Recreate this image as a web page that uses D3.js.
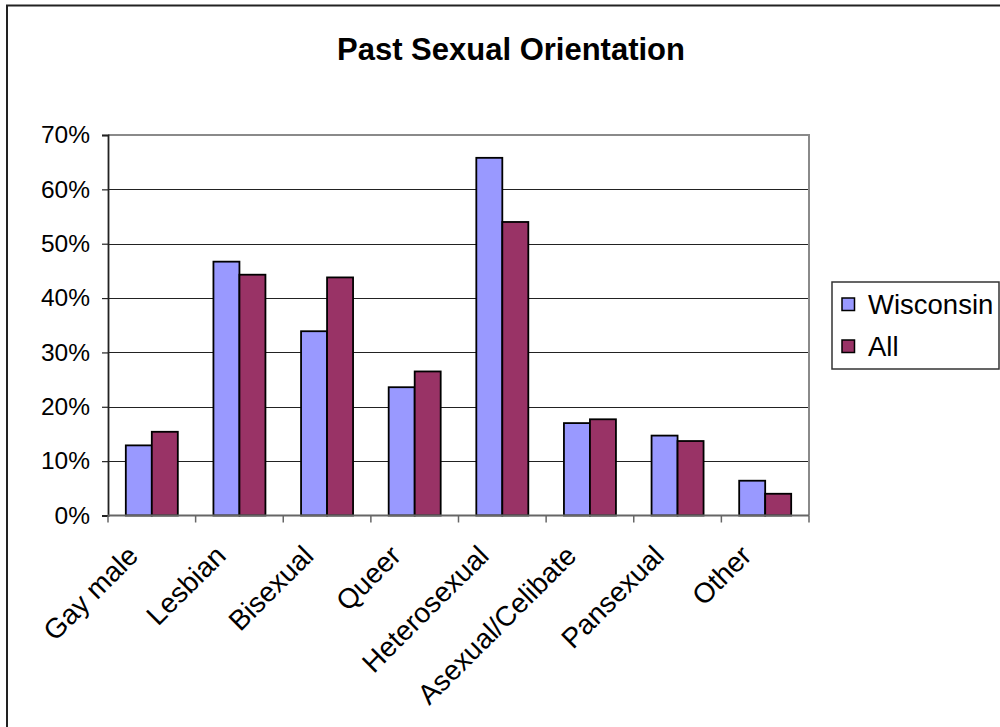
<!DOCTYPE html>
<html>
<head>
<meta charset="utf-8">
<script src="https://cdn.jsdelivr.net/npm/d3@7"></script>
<style>
  html, body { margin: 0; padding: 0; background: #fff; }
  svg { display: block; }
  text { font-family: "Liberation Sans", Arial, sans-serif; fill: #000; }
</style>
</head>
<body>
<svg id="chart" width="1000" height="727"></svg>
<script>
// Categories and series
const categories = ["Gay male", "Lesbian", "Bisexual", "Queer", "Heterosexual", "Asexual/Celibate", "Pansexual", "Other"];
const seriesNames = ["Wisconsin", "All"];
const wisconsin = [12.9, 46.7, 33.9, 23.6, 65.8, 17.0, 14.7, 6.4];
const all = [15.4, 44.3, 43.8, 26.5, 54.0, 17.7, 13.7, 4.0];
const yTicks = [0, 10, 20, 30, 40, 50, 60, 70];
const colors = ["#9999FF", "#993366"];

const svg = d3.select("#chart");

// Outer chart frame
svg.append("path")
  .attr("d", "M7,727 L7,5.5 L1000,5.5")
  .attr("fill", "none").attr("stroke", "#222").attr("stroke-width", 2);

// Title
svg.append("text")
  .attr("x", 511).attr("y", 60)
  .attr("text-anchor", "middle")
  .attr("font-size", 31).attr("font-weight", "bold")
  .text("Past Sexual Orientation");

const plot = { left: 108, right: 809, top: 135, bottom: 515.5 };

const x0 = d3.scaleBand().domain(categories).range([plot.left, plot.right]).padding(0);
const x1 = d3.scaleBand().domain(seriesNames).range([0, x0.bandwidth()]).paddingInner(0).paddingOuter(0.685);
const y = d3.scaleLinear().domain([0, 70]).range([plot.bottom, plot.top]);

// Gridlines
svg.append("g").selectAll("line")
  .data(yTicks.filter(t => t > 0 && t < 70))
  .join("line")
  .attr("x1", plot.left).attr("x2", plot.right)
  .attr("y1", d => Math.round(y(d)) + 0.5).attr("y2", d => Math.round(y(d)) + 0.5)
  .attr("stroke", "#222").attr("stroke-width", 1.2);

// Plot area border (top and right)
svg.append("path")
  .attr("d", `M${plot.left},${plot.top} L${plot.right},${plot.top} L${plot.right},${plot.bottom}`)
  .attr("fill", "none").attr("stroke", "#8a8a8a").attr("stroke-width", 2);

// Bars
const rows = categories.map((c, i) => ({ cat: c, vals: [wisconsin[i], all[i]] }));
const groups = svg.append("g").selectAll("g")
  .data(rows).join("g")
  .attr("transform", d => `translate(${x0(d.cat)},0)`);
groups.selectAll("rect")
  .data(d => d.vals.map((v, k) => ({ key: seriesNames[k], v, k })))
  .join("rect")
  .attr("x", d => x1(d.key))
  .attr("y", d => y(d.v))
  .attr("width", x1.bandwidth())
  .attr("height", d => y(0) - y(d.v))
  .attr("fill", d => colors[d.k])
  .attr("stroke", "#000").attr("stroke-width", 1.8);

// Y axis
const yAxis = svg.append("g")
  .attr("transform", `translate(${plot.left},0)`)
  .call(d3.axisLeft(y).tickValues(yTicks).tickFormat(d => d + "%").tickSize(6).tickPadding(12));
yAxis.select(".domain").attr("stroke", "#222").attr("stroke-width", 1.8);
yAxis.selectAll(".tick line").attr("stroke", "#222").attr("stroke-width", 1.2);
yAxis.selectAll("text").attr("font-size", 24.5).attr("font-family", "Liberation Sans, Arial, sans-serif").attr("fill", "#000");

// X axis with ticks at category boundaries
const bounds = categories.map(c => x0(c)).concat([plot.right]);
svg.append("line")
  .attr("x1", plot.left).attr("x2", plot.right)
  .attr("y1", plot.bottom).attr("y2", plot.bottom)
  .attr("stroke", "#666").attr("stroke-width", 2);
svg.append("g").selectAll("line")
  .data(bounds).join("line")
  .attr("x1", d => d).attr("x2", d => d)
  .attr("y1", plot.bottom).attr("y2", plot.bottom + 7)
  .attr("stroke", "#666").attr("stroke-width", 1.5);

// Rotated category labels
svg.append("g").selectAll("text")
  .data(categories).join("text")
  .attr("text-anchor", "end")
  .attr("font-size", 28)
  .attr("transform", d => `translate(${x0(d) + x0.bandwidth() / 2 - 12},${plot.bottom + 42}) rotate(-45)`)
  .text(d => d);

// Legend
const legend = svg.append("g");
legend.append("rect")
  .attr("x", 832).attr("y", 282).attr("width", 167).attr("height", 87)
  .attr("fill", "#fff").attr("stroke", "#333").attr("stroke-width", 1.5);
seriesNames.forEach((name, k) => {
  const cy = 304.5 + k * 42;
  legend.append("rect")
    .attr("x", 842).attr("y", cy - 6.5).attr("width", 12.5).attr("height", 12.5)
    .attr("fill", colors[k]).attr("stroke", "#000").attr("stroke-width", 1.5);
  legend.append("text")
    .attr("x", 868).attr("y", cy + 9.5)
    .attr("font-size", 27.5)
    .text(name);
});
</script>
</body>
</html>
